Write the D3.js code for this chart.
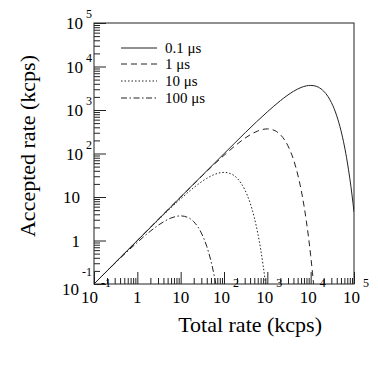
<!DOCTYPE html>
<html><head><meta charset="utf-8">
<script src="https://cdn.jsdelivr.net/npm/d3@7"></script>
<style>body{margin:0;background:#fff}svg{display:block}</style>
</head><body>
<svg id="c" width="378" height="378"></svg>
<script>
// ---- data ----
const seriesNames = ["0.1 \u03bcs", "1 \u03bcs", "10 \u03bcs", "100 \u03bcs"];
const total01 = [0.1,1,10,100,1000,2000,4000,6000,8000,10000,12000,15000,20000,25000,30000,40000,50000,60000,70000,80000,90000,100000];
const accepted01 = [0.1,1,10,99,905,1637,2681,3293,3595,3679,3614,3347,2707,2052,1494,733,337,149,63.8,26.8,11.1,4.54];
const total1 = [0.1,1,10,100,200,400,600,1000,1500,2000,3000,4000,5000,6000,7000,8000,9000,10000,11000,12000];
const accepted1 = [0.1,1,9.99,90.5,163.7,268.1,329.3,367.9,334.7,270.7,149.4,73.3,33.7,14.9,6.38,2.68,1.11,0.454,0.184,0.0737];
const total10 = [0.1,1,10,20,40,60,100,150,200,300,400,500,600,700,800,900,1000,1100,1200];
const accepted10 = [0.1,0.99,9.05,16.4,26.8,32.9,36.8,33.5,27.1,14.9,7.33,3.37,1.49,0.638,0.268,0.111,0.0454,0.0184,0.0074];
const total100 = [0.1,1,2,4,6,10,15,20,30,40,50,60,70,80,90,100,110,120];
const accepted100 = [0.0999,0.905,1.64,2.68,3.29,3.68,3.35,2.71,1.49,0.733,0.337,0.149,0.0638,0.0268,0.0111,0.00454,0.00184,0.00074];
const majorTicks = [0.1,1,10,100,1000,10000,100000];
const yTickLabels = [["10","-1"],["1",""],["10",""],["10","2"],["10","3"],["10","4"],["10","5"]];
const xTickLabels = [["10","-1"],["1",""],["10",""],["10","2"],["10","3"],["10","4"],["10","5"]];
const xTitle = "Total rate (kcps)";
const yTitle = "Accepted rate (kcps)";

// ---- layout ----
const L = 94, R = 354, T = 23, B = 284;
const svg = d3.select("#c");
const x = d3.scaleLog().domain([0.1, 1e5]).range([L, R]);
const y = d3.scaleLog().domain([0.1, 1e5]).range([B, T]);
const minorTicks = [];
majorTicks.slice(0, -1).forEach(d => { for (let k = 2; k <= 9; k++) minorTicks.push(k * d); });

const font = "Liberation Serif, Times New Roman, serif";
const ink = "#222";

svg.append("defs").append("clipPath").attr("id", "clip")
  .append("rect").attr("x", L).attr("y", T).attr("width", R - L).attr("height", B - T);

// ticks
const gx = svg.append("g").attr("transform", `translate(0,${B})`);
gx.append("g").call(d3.axisBottom(x).tickValues(minorTicks).tickSize(-6).tickFormat(""));
gx.append("g").call(d3.axisBottom(x).tickValues(majorTicks).tickSize(-12).tickFormat(""));
const gy = svg.append("g").attr("transform", `translate(${L},0)`);
gy.append("g").call(d3.axisLeft(y).tickValues(minorTicks).tickSize(-6).tickFormat(""));
gy.append("g").call(d3.axisLeft(y).tickValues(majorTicks).tickSize(-12).tickFormat(""));
svg.selectAll(".domain").remove();
svg.selectAll(".tick line").attr("stroke", ink).attr("stroke-width", 1);

// frame
svg.append("rect").attr("x", L).attr("y", T).attr("width", R - L).attr("height", B - T)
  .attr("fill", "none").attr("stroke", ink).attr("stroke-width", 1);

// tick labels
majorTicks.forEach((v, i) => {
  const [b, e] = yTickLabels[i];
  const t = svg.append("text").attr("font-family", font).attr("font-size", 17).attr("fill", "#000")
    .attr("text-anchor", "end").attr("x", e ? 92 : 80).attr("y", y(v) + 6 + (i === 0 ? 5 : 0));
  t.append("tspan").text(b);
  if (e) t.append("tspan").attr("dy", i === 0 ? -19 : -11).attr("font-size", 12).attr("dx", 3).text(e);
});
majorTicks.forEach((v, i) => {
  const [b, e] = xTickLabels[i];
  const t = svg.append("text").attr("font-family", font).attr("font-size", 17).attr("fill", "#000")
    .attr("text-anchor", "middle").attr("x", x(v) + (e ? 2 : 0)).attr("y", 303);
  t.append("tspan").text(b);
  if (e) t.append("tspan").attr("dy", -16).attr("dx", 3).attr("font-size", 12).text(e);
});

// axis titles
svg.append("text").attr("font-family", font).attr("font-size", 22).attr("fill", "#000")
  .attr("text-anchor", "end").attr("x", 322).attr("y", 332).text(xTitle);
svg.append("text").attr("font-family", font).attr("font-size", 22).attr("fill", "#000")
  .attr("text-anchor", "end").attr("transform", "translate(35,55) rotate(-90)").text(yTitle);

// curves
const dashes = [null, "6,4", "1.5,2", "6,2.5,1.5,2.5"];
const series = [[total01, accepted01], [total1, accepted1], [total10, accepted10], [total100, accepted100]];
const line = d3.line().x(d => x(d[0])).y(d => y(d[1])).curve(d3.curveMonotoneX);
const gc = svg.append("g").attr("clip-path", "url(#clip)");
series.forEach(([tx, ay], i) => {
  gc.append("path").datum(tx.map((v, j) => [v, ay[j]]))
    .attr("d", line).attr("fill", "none").attr("stroke", ink).attr("stroke-width", 1)
    .attr("stroke-dasharray", dashes[i]);
});

// legend
const legY = [48, 64, 81, 98];
seriesNames.forEach((n, i) => {
  svg.append("line").attr("x1", 121).attr("x2", 157).attr("y1", legY[i]).attr("y2", legY[i])
    .attr("stroke", ink).attr("stroke-width", 1).attr("stroke-dasharray", dashes[i]);
  svg.append("text").attr("font-family", font).attr("font-size", 15).attr("fill", "#000")
    .attr("x", 165).attr("y", legY[i] + 5).text(n);
});
</script>
</body></html>
